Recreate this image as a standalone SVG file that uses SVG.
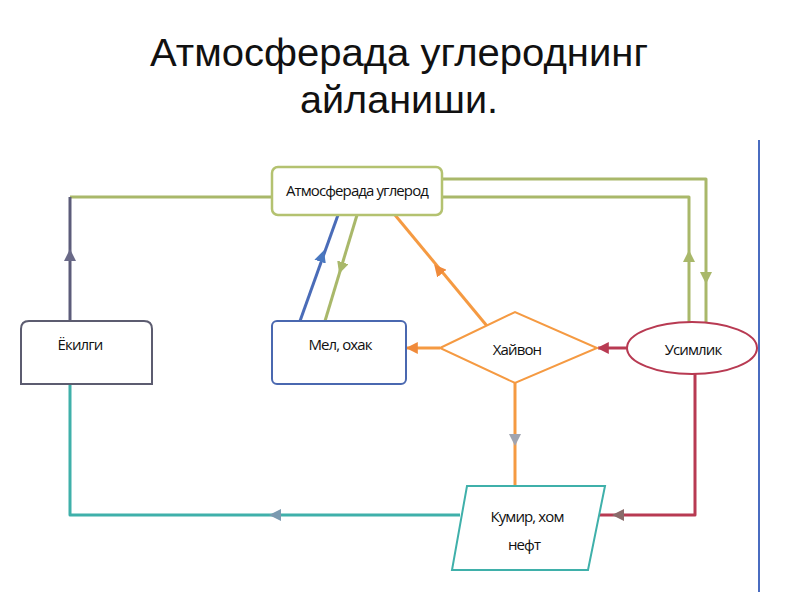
<svg xmlns="http://www.w3.org/2000/svg" width="800" height="600" viewBox="0 0 800 600">
<defs>
<style>
.title{font-family:"Liberation Sans",Arial,sans-serif;font-size:38px;fill:#111;text-anchor:middle}
.lbl{font-family:"Open Sans","Liberation Sans",sans-serif;font-size:15px;fill:#111;text-anchor:middle;letter-spacing:-0.9px}
.c{fill:none;stroke-width:3;stroke-linejoin:round}
.m{fill:none;stroke:none}
.olive{stroke:#a9b86a}
.purple{stroke:#5c5c7a}
.blue{stroke:#4a6cb8}
.orange{stroke:#f59a42}
.red{stroke:#b83a52}
.teal{stroke:#3fb0aa}
</style>
<marker id="aPurple" viewBox="0 0 10 10" refX="5" refY="5" markerWidth="12" markerHeight="12" orient="auto" markerUnits="userSpaceOnUse"><path d="M0,0L10,5L0,10z" fill="#6a6a88"/></marker>
<marker id="aOlive" viewBox="0 0 10 10" refX="5" refY="5" markerWidth="12" markerHeight="12" orient="auto" markerUnits="userSpaceOnUse"><path d="M0,0L10,5L0,10z" fill="#a9b86a"/></marker>
<marker id="aBlue" viewBox="0 0 10 10" refX="5" refY="5" markerWidth="12" markerHeight="12" orient="auto" markerUnits="userSpaceOnUse"><path d="M0,0L10,5L0,10z" fill="#4a78c0"/></marker>
<marker id="aOrange" viewBox="0 0 10 10" refX="5" refY="5" markerWidth="12" markerHeight="12" orient="auto" markerUnits="userSpaceOnUse"><path d="M0,0L10,5L0,10z" fill="#f08a3a"/></marker>
<marker id="aOrangeEnd" viewBox="0 0 10 10" refX="9" refY="5" markerWidth="12" markerHeight="12" orient="auto" markerUnits="userSpaceOnUse"><path d="M0,0L10,5L0,10z" fill="#f08a3a"/></marker>
<marker id="aRedEnd" viewBox="0 0 10 10" refX="9" refY="5" markerWidth="12" markerHeight="12" orient="auto" markerUnits="userSpaceOnUse"><path d="M0,0L10,5L0,10z" fill="#b83a52"/></marker>
<marker id="aGray" viewBox="0 0 10 10" refX="5" refY="5" markerWidth="12" markerHeight="12" orient="auto" markerUnits="userSpaceOnUse"><path d="M0,0L10,5L0,10z" fill="#a0a4b0"/></marker>
<marker id="aRedGray" viewBox="0 0 10 10" refX="5" refY="5" markerWidth="12" markerHeight="12" orient="auto" markerUnits="userSpaceOnUse"><path d="M0,0L10,5L0,10z" fill="#8a6a6a"/></marker>
<marker id="aTeal" viewBox="0 0 10 10" refX="5" refY="5" markerWidth="12" markerHeight="12" orient="auto" markerUnits="userSpaceOnUse"><path d="M0,0L10,5L0,10z" fill="#7a9ab0"/></marker>
</defs>
<rect width="800" height="600" fill="#ffffff"/>
<text class="title" x="399" y="66" textLength="498" lengthAdjust="spacingAndGlyphs">Атмосферада углероднинг</text>
<text class="title" x="399" y="113" textLength="198" lengthAdjust="spacingAndGlyphs">айланиши.</text>
<line x1="759" y1="140" x2="759" y2="592" stroke="#4a6cc0" stroke-width="2"/>
<g id="connectors">
<path class="c olive" d="M272,197 L70,197"/>
<path class="c purple" d="M70,321 L70,197"/>
<path class="m" d="M70,262 L70,255" marker-end="url(#aPurple)"/>
<path class="c blue" d="M300,321 L338,215"/>
<path class="m" d="M320,262 L322,256" marker-end="url(#aBlue)"/>
<path class="c olive" d="M357,215 L325,321"/>
<path class="m" d="M343,262 L341,268" marker-end="url(#aOlive)"/>
<path class="c orange" d="M487,326 L395,215"/>
<path class="m" d="M443,275 L438,269" marker-end="url(#aOrange)"/>
<path class="c olive" d="M689,322 L689,197 L442,197"/>
<path class="m" d="M689,262 L689,256" marker-end="url(#aOlive)"/>
<path class="c olive" d="M442,179 L706,179 L706,322"/>
<path class="m" d="M706,272 L706,278" marker-end="url(#aOlive)"/>
<path class="c orange" d="M440,348 L407,348" marker-end="url(#aOrangeEnd)"/>
<path class="c red" d="M627,348 L598,348" marker-end="url(#aRedEnd)"/>
<path class="c orange" d="M515,383 L515,486"/>
<path class="m" d="M515,434 L515,440" marker-end="url(#aGray)"/>
<path class="c red" d="M695,374 L695,515 L599,515"/>
<path class="m" d="M624,515 L618,515" marker-end="url(#aRedGray)"/>
<path class="c teal" d="M460,515 L70,515 L70,384"/>
<path class="m" d="M281,515 L275,515" marker-end="url(#aTeal)"/>
</g>
<g id="atmosfera">
<rect x="272" y="167" width="170" height="48" rx="6" fill="#ffffff" stroke="#b4c270" stroke-width="2.5"/>
<text class="lbl" x="357" y="196">Атмосферада углерод</text>
</g>
<g id="yokilgi">
<path d="M21,384 L21,329 Q21,321 29,321 L144,321 Q152,321 152,329 L152,384 Z" fill="#ffffff" stroke="#5c5c70" stroke-width="2"/>
<text class="lbl" x="80" y="350">Ёкилги</text>
</g>
<g id="mel">
<rect x="272" y="321" width="134" height="63" rx="5" fill="#ffffff" stroke="#4a68b0" stroke-width="2"/>
<text class="lbl" x="340" y="350">Мел, охак</text>
</g>
<g id="hayvon">
<polygon points="440,348 515,312 597,348 515,383" fill="#ffffff" stroke="#f59a42" stroke-width="2"/>
<text class="lbl" x="517" y="355">Хайвон</text>
</g>
<g id="usimlik">
<ellipse cx="692" cy="348" rx="65" ry="26" fill="#ffffff" stroke="#b83a52" stroke-width="2"/>
<text class="lbl" x="693" y="355">Усимлик</text>
</g>
<g id="kumir">
<polygon points="467,486 605,486 588,570 452,570" fill="#ffffff" stroke="#3fb0aa" stroke-width="2"/>
<text class="lbl" x="527" y="522">Кумир, хом</text>
<text class="lbl" x="524" y="550">нефт</text>
</g>
</svg>
